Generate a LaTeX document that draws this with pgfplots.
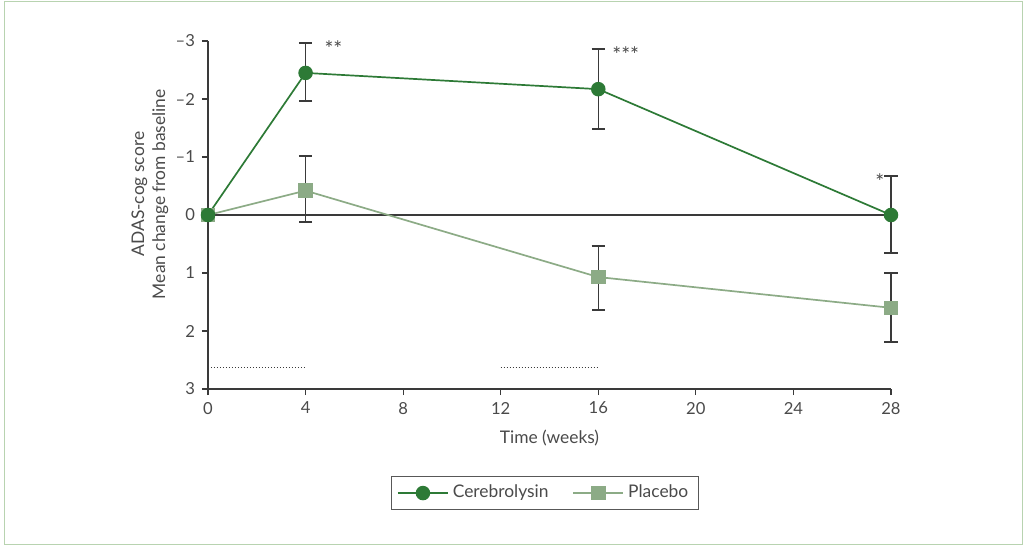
\documentclass[border=0pt]{standalone}
\usepackage{fontspec}
\setmainfont{Lato}
\usepackage{pgfplots}
\pgfplotsset{compat=1.18}
\definecolor{cere}{HTML}{2D7A36}
\definecolor{plac}{HTML}{8CAB86}
\definecolor{axgray}{HTML}{3A3A3A}
\definecolor{txt}{HTML}{4A4A4A}
\definecolor{framec}{HTML}{B8D3B0}
\begin{document}
\begin{tikzpicture}
\useasboundingbox (0,0) rectangle (512pt,274pt);
\draw[framec, line width=0.8pt] (2.25pt,1.75pt) rectangle (511.25pt,273.25pt);
\begin{axis}[
  at={(104pt,79.5pt)}, anchor=south west,
  scale only axis, width=341.5pt, height=174pt,
  xmin=0, xmax=28, ymin=-3, ymax=3, y dir=reverse,
  axis x line*=bottom, axis y line*=left,
  axis line style={axgray, line width=0.8pt},
  xtick={0,4,...,28}, ytick={-3,-2,-1,0,1,2,3},
  yticklabels={{--3},{--2},{--1},0,1,2,3},
  tick style={axgray, line width=0.6pt},
  tick align=outside, major tick length=3pt,
  tick label style={font=\fontsize{8.3}{10}\selectfont, text=txt},
  /pgf/number format/assume math mode=true,
  xlabel={Time (weeks)},
  ylabel={ADAS-cog score\\Mean change from baseline},
  label style={font=\fontsize{8.7}{10.5}\selectfont, text=txt},
  ylabel style={align=center, at={(axis description cs:-0.085,0.56)}, anchor=center, rotate=0},
  xlabel style={at={(axis description cs:0.5,-0.141)}, anchor=center},
  clip=false,
  legend columns=2,
  legend style={at={(axis description cs:0.493,-0.299)}, anchor=center,
    draw=axgray!85, line width=0.5pt, font=\fontsize{8.7}{10}\selectfont, text=txt,
    inner xsep=3pt, inner ysep=2.5pt,
    /tikz/every even column/.append style={column sep=10pt}},
  legend image code/.code={
    \draw[mark repeat=2, mark phase=2, #1] plot coordinates {(0pt,0pt)(12.5pt,0pt)(25pt,0pt)};
  },
  error bars/error bar style={axgray, line width=0.7pt},
  error bars/error mark options={rotate=90, mark size=3.3pt, line width=1pt, draw=axgray},
]
\addlegendimage{cere, line width=0.85pt, mark=*, mark size=3.2pt, mark options={fill=cere, draw=cere}}
\addlegendentry{Cerebrolysin}
\addlegendimage{plac, line width=0.85pt, mark=square*, mark size=3.2pt, mark options={fill=plac, draw=plac}}
\addlegendentry{Placebo}

% zero line
\addplot[axgray, line width=0.8pt, forget plot] coordinates {(0,0) (28,0)};
% dotted treatment periods
\addplot[axgray, line width=0.65pt, dash pattern=on 0.7pt off 0.8pt, forget plot] coordinates {(0,2.63) (3.95,2.63)};
\addplot[axgray, line width=0.65pt, dash pattern=on 0.7pt off 0.8pt, forget plot] coordinates {(12,2.63) (15.95,2.63)};

% Placebo
\addplot[plac, line width=0.85pt, mark=square*, mark size=3.2pt, mark options={fill=plac, draw=plac}, forget plot,
  error bars/.cd, y dir=both, y explicit]
  coordinates {
    (0,0)
    (4,-0.42) +=(0,0.54) -=(0,0.60)
    (16,1.07) +=(0,0.57) -=(0,0.54)
    (28,1.60) +=(0,0.59) -=(0,0.60)
  };
% Cerebrolysin
\addplot[cere, line width=0.85pt, mark=*, mark size=3.2pt, mark options={fill=cere, draw=cere}, forget plot,
  error bars/.cd, y dir=both, y explicit]
  coordinates {
    (0,0)
    (4,-2.45) +=(0,0.48) -=(0,0.52)
    (16,-2.17) +=(0,0.69) -=(0,0.69)
    (28,0) +=(0,0.65) -=(0,0.67)
  };

\node[font=\fontsize{10.5}{12}\selectfont, text=txt, anchor=west, inner sep=0pt, yshift=-2pt] at (axis cs:4.76,-2.93) {**};
\node[font=\fontsize{10.5}{12}\selectfont, text=txt, anchor=west, inner sep=0pt, yshift=-2pt] at (axis cs:16.56,-2.83) {***};
\node[font=\fontsize{10.5}{12}\selectfont, text=txt, anchor=center, inner sep=0pt, yshift=-2pt] at (axis cs:27.54,-0.64) {*};
\end{axis}
\end{tikzpicture}
\end{document}
